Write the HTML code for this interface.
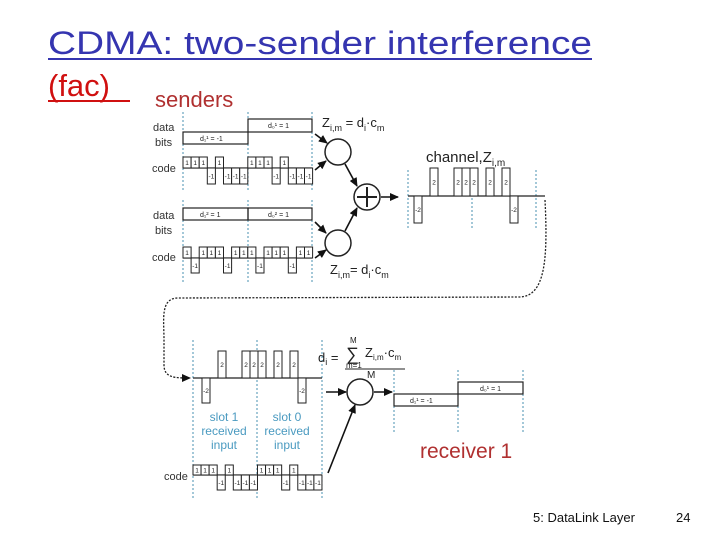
<!DOCTYPE html>
<html><head><meta charset="utf-8"><style>
body{margin:0;background:#fff;}
svg{display:block;}
.t{font-family:"Liberation Sans",sans-serif;}
</style></head><body>
<svg id="s" width="720" height="540" viewBox="0 0 720 540" xmlns="http://www.w3.org/2000/svg">
<defs><marker id="a" markerUnits="userSpaceOnUse" markerWidth="9" markerHeight="8" refX="8" refY="4" orient="auto"><path d="M0,0 L9,4 L0,8 z" fill="#111"/></marker></defs>
<text x="48" y="54" font-family="Liberation Sans, sans-serif" font-size="32" fill="#3535b0" textLength="544" lengthAdjust="spacingAndGlyphs">CDMA: two-sender interference</text>
<line x1="48" y1="59" x2="592" y2="59" stroke="#3535b0" stroke-width="2"/>
<text x="48" y="96" font-family="Liberation Sans, sans-serif" font-size="31" fill="#d01010">(fac)</text>
<line x1="48" y1="101" x2="130" y2="101" stroke="#d01010" stroke-width="2"/>
<text x="155" y="107" class="t" font-size="22" fill="#b03030">senders</text>
<g class="t" font-size="11" fill="#333">
<text x="153" y="131">data</text><text x="155" y="146">bits</text><text x="152" y="172">code</text>
<text x="153" y="219">data</text><text x="155" y="234">bits</text><text x="152" y="261">code</text>
<text x="164" y="480">code</text>
</g>
<g stroke="#4a90b0" stroke-width="1" stroke-dasharray="2,2">
<line x1="183" y1="112" x2="183" y2="190"/><line x1="248" y1="112" x2="248" y2="190"/><line x1="312" y1="112" x2="312" y2="190"/>
<line x1="183" y1="200" x2="183" y2="282"/><line x1="248" y1="200" x2="248" y2="282"/><line x1="312" y1="200" x2="312" y2="282"/>
<line x1="408" y1="170" x2="408" y2="228"/><line x1="472" y1="170" x2="472" y2="228"/><line x1="536" y1="170" x2="536" y2="228"/>
<line x1="193" y1="340" x2="193" y2="500"/><line x1="257" y1="340" x2="257" y2="500"/><line x1="322" y1="340" x2="322" y2="500"/>
<line x1="394" y1="370" x2="394" y2="432"/><line x1="458" y1="370" x2="458" y2="432"/><line x1="523" y1="370" x2="523" y2="432"/>
</g>
<g fill="none" stroke="#222" stroke-width="1.2">
<rect x="183" y="132" width="65" height="12"/><rect x="248" y="119" width="64" height="13"/>
<rect x="183" y="208" width="65" height="12"/><rect x="248" y="208" width="64" height="12"/>
<rect x="394" y="394" width="64" height="12"/><rect x="458" y="382" width="65" height="12"/>
<line x1="408" y1="196" x2="545" y2="196"/>
<line x1="193" y1="378" x2="322" y2="378"/>
<line x1="183" y1="168" x2="312" y2="168"/><line x1="183" y1="258" x2="312" y2="258"/><line x1="193" y1="475" x2="322" y2="475"/>
</g>
<g class="t" font-size="7" fill="#222">
<text x="200" y="141">d₁¹ = -1</text><text x="268" y="128">d₀¹ = 1</text>
<text x="200" y="217">d₁² = 1</text><text x="268" y="217">d₀² = 1</text>
<text x="410" y="403">d₁¹ = -1</text><text x="480" y="391">d₀¹ = 1</text>
</g>
<g id="chips" fill="#fff" stroke="#222" stroke-width="1"></g>
<g fill="#fff" stroke="#222" stroke-width="1.5">
<circle cx="338" cy="152" r="13"/><circle cx="338" cy="243" r="13"/><circle cx="367" cy="197" r="13"/><circle cx="360" cy="392" r="13"/>
</g>
<g stroke="#222" stroke-width="2"><line x1="357" y1="197" x2="377" y2="197"/><line x1="367" y1="187" x2="367" y2="207"/></g>
<g stroke="#111" stroke-width="1.6" marker-end="url(#a)">
<line x1="315" y1="134" x2="327" y2="143"/><line x1="315" y1="170" x2="326" y2="161"/>
<line x1="315" y1="222" x2="326" y2="233"/><line x1="315" y1="258" x2="326" y2="250"/>
<line x1="345" y1="164" x2="357" y2="186"/><line x1="345" y1="231" x2="357" y2="208"/>
<line x1="381" y1="197" x2="398" y2="197"/>
<line x1="326" y1="392" x2="346" y2="392"/><line x1="374" y1="392" x2="392" y2="392"/>
<line x1="328" y1="473" x2="355" y2="405"/>
</g>
<path d="M545,200 C548,260 545,296 520,297 L178,298 C160,298 164,320 164,340 L164,365 C164,378 175,378 190,378" fill="none" stroke="#222" stroke-width="1.3" stroke-dasharray="2,1.5" marker-end="url(#a)"/>
<g class="t" font-size="13" fill="#222">
<text x="322" y="127">Z<tspan font-size="9" dy="4">i,m</tspan><tspan dy="-4"> = d</tspan><tspan font-size="9" dy="4">i</tspan><tspan dy="-4">·c</tspan><tspan font-size="9" dy="4">m</tspan></text>
<text x="330" y="274">Z<tspan font-size="9" dy="4">i,m</tspan><tspan dy="-4">= d</tspan><tspan font-size="9" dy="4">i</tspan><tspan dy="-4">·c</tspan><tspan font-size="9" dy="4">m</tspan></text>
<text x="426" y="162" font-size="15">channel,Z<tspan font-size="10" dy="4">i,m</tspan></text>
<text x="318" y="362">d<tspan font-size="9" dy="3">i</tspan><tspan dy="-3"> =</tspan></text>
<text x="346" y="360" font-size="18">∑</text>
<text x="365" y="357">Z<tspan font-size="8" dy="3">i,m</tspan><tspan dy="-3">·c</tspan><tspan font-size="8" dy="3">m</tspan></text>
<text x="350" y="343" font-size="8">M</text><text x="346" y="368" font-size="8">m=1</text>
<text x="367" y="378" font-size="10">M</text>
</g>
<line x1="345" y1="369" x2="405" y2="369" stroke="#222" stroke-width="1"/>
<g class="t" font-size="12" fill="#4a9ac0" text-anchor="middle">
<text x="224" y="421">slot 1</text><text x="224" y="435">received</text><text x="224" y="449">input</text>
<text x="287" y="421">slot 0</text><text x="287" y="435">received</text><text x="287" y="449">input</text>
</g>
<text x="420" y="458" class="t" font-size="21" fill="#b03030">receiver 1</text>
<text x="533" y="522" font-family="Liberation Sans, sans-serif" font-size="13" fill="#111">5: DataLink Layer</text>
<text x="676" y="522" font-family="Liberation Sans, sans-serif" font-size="13" fill="#111">24</text>
<script>
var g=document.getElementById('chips'),N='http://www.w3.org/2000/svg';
function box(x,y,w,h,l){var r=document.createElementNS(N,'rect');r.setAttribute('x',x);r.setAttribute('y',y);r.setAttribute('width',w);r.setAttribute('height',h);g.appendChild(r);
var t=document.createElementNS(N,'text');t.setAttribute('x',x+w/2);t.setAttribute('y',y+h/2+2.5);t.setAttribute('font-size','6.5');t.setAttribute('text-anchor','middle');t.setAttribute('fill','#222');t.setAttribute('stroke','none');t.setAttribute('font-family','Liberation Sans,sans-serif');t.textContent=l;g.appendChild(t);}
function row(x0,w,base,up,dn,vals){vals.forEach(function(v,i){var x=x0+w*i;if(v>0)box(x,base-up,w,up,'1');else box(x,base,w,dn,'-1');});}
var c1=[1,1,1,-1,1,-1,-1,-1],c2=[1,-1,1,1,1,-1,1,1];
row(183,8.1,168,11,16,c1.concat(c1));
row(183,8.1,258,11,15,c2.concat(c2));
row(193,8.06,475,10,15,c1.concat(c1));
function ch(x0,w,base,up,dn,vals){vals.forEach(function(v,i){var x=x0+w*i;if(v>0)box(x,base-up,w,up,'2');else if(v<0)box(x,base,w,dn,'-2');});}
var p=[-2,0,2,0,0,2,2,2,0,2,0,2,-2];
ch(414,8,196,28,27,p);
ch(202,8,378,27,25,p);
</script>
</svg>
</body></html>
